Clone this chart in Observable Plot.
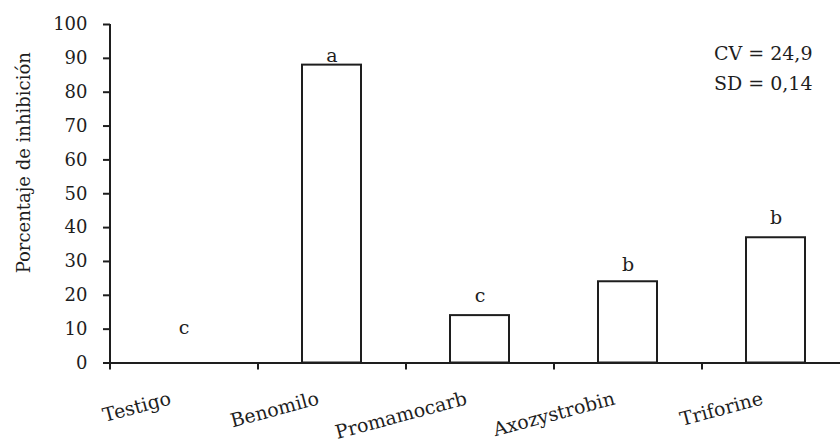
<!DOCTYPE html>
<html>
<head>
<meta charset="utf-8">
<script src="https://cdn.jsdelivr.net/npm/d3@7"></script>
<script src="https://cdn.jsdelivr.net/npm/@observablehq/plot@0.6"></script>
<style>
  html, body { margin: 0; padding: 0; background: #fff; }
  #chart svg { display: block; }
</style>
</head>
<body>
<div id="chart"></div>
<script>
// Data
const categories = ["Testigo", "Benomilo", "Promamocarb", "Axozystrobin", "Triforine"];
const values = [0, 88, 14, 24, 37];
const letters = ["c", "a", "c", "b", "b"];
const letterY = [8.7, 88.9, 18, 27.3, 41.1];
const yTicks = [0, 10, 20, 30, 40, 50, 60, 70, 80, 90, 100];
const yLabel = "Porcentaje de inhibición";
const stats = ["CV = 24,9", "SD = 0,14"];

const rows = categories.map((c, i) => ({cat: c, value: values[i], letter: letters[i], ly: letterY[i]}));

const ink = "#1e1e1e";
const font = "DejaVu Serif";
const W = 840, H = 442;
const mL = 110, mT = 24, mB = 79.5;
const pInner = 0.6, pOuter = 0.3;
const rangeEnd = 850;
const step = (rangeEnd - mL) / (categories.length - pInner + 2 * pOuter);
const bw = step * (1 - pInner);
const toBoundary = -(bw / 2 + step * pInner / 2);

const chart = Plot.plot({
  width: W,
  height: H,
  marginLeft: mL,
  marginRight: 0,
  marginTop: mT,
  marginBottom: mB,
  style: {fontFamily: font, color: ink, background: "#fff"},
  x: {domain: categories, range: [mL, rangeEnd], paddingInner: pInner, paddingOuter: pOuter, axis: null},
  y: {domain: [0, 100], axis: null},
  marks: [
    Plot.barY(rows, {x: "cat", y: "value", fill: "#fff", stroke: ink, strokeWidth: 2}),
    // y axis line
    Plot.ruleX([categories[0]], {dx: toBoundary, y1: 0, y2: 100, stroke: ink, strokeWidth: 2}),
    // x axis line
    Plot.ruleY([0], {stroke: ink, strokeWidth: 2}),
    // y axis ticks and labels
    Plot.axisY({ticks: yTicks, tickSize: 7, tickPadding: 16, fontSize: 18, label: null, stroke: ink, strokeWidth: 2, fill: ink}),
    // x ticks at category boundaries
    Plot.axisX({ticks: categories, tickSize: 7, tickFormat: () => "", dx: toBoundary, label: null, stroke: ink, strokeWidth: 2}),
    // x category labels
    Plot.text(categories, {x: d => d, frameAnchor: "bottom", dx: -12, dy: 41, rotate: -15, textAnchor: "end", lineAnchor: "bottom", fontSize: 19, fill: ink}),
    // significance letters
    Plot.text(rows, {x: "cat", y: "ly", text: "letter", lineAnchor: "bottom", fontSize: 19, fill: ink}),
    // y label
    Plot.text([yLabel], {frameAnchor: "left", dx: -86, dy: -31, rotate: -90, textAnchor: "middle", lineAnchor: "middle", fontSize: 18, fill: ink}),
    // stats
    Plot.text([stats.join("\n")], {frameAnchor: "top-right", dx: -28, dy: 14, textAnchor: "end", lineAnchor: "top", lineHeight: 1.58, fontSize: 19, fill: ink})
  ]
});
document.getElementById("chart").appendChild(chart);
</script>
</body>
</html>
